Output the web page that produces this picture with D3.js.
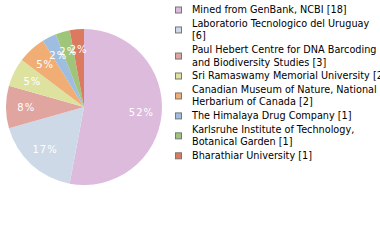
<!DOCTYPE html>
<html>
<head>
<meta charset="utf-8">
<script src="https://cdn.jsdelivr.net/npm/d3@7"></script>
<style>
  body { margin: 0; background: #fff; }
  svg { display: block; }
</style>
</head>
<body>
<div id="chart"></div>
<script>
// Data
var institutions = [
  ["Mined from GenBank, NCBI [18]"],
  ["Laboratorio Tecnologico del Uruguay", "[6]"],
  ["Paul Hebert Centre for DNA Barcoding", "and Biodiversity Studies [3]"],
  ["Sri Ramaswamy Memorial University [2]"],
  ["Canadian Museum of Nature, National", "Herbarium of Canada [2]"],
  ["The Himalaya Drug Company [1]"],
  ["Karlsruhe Institute of Technology,", "Botanical Garden [1]"],
  ["Bharathiar University [1]"]
];
var counts = [18, 6, 3, 2, 2, 1, 1, 1];
var colors = ["#dcbbdd", "#cdd9e6", "#dfa59e", "#dde39f", "#f0ad74", "#9ebde1", "#9fc57b", "#dc7a5f"];

var width = 380, height = 240;
var cx = 84, cy = 107, radius = 78;

var svg = d3.select("#chart")
  .append("svg")
  .attr("width", width)
  .attr("height", height);

var total = d3.sum(counts);
var pie = d3.pie().sort(null).value(function (d) { return d; });
var arcs = pie(counts);

var arc = d3.arc().innerRadius(0).outerRadius(radius);
var labelArc = d3.arc().innerRadius(radius * 0.74).outerRadius(radius * 0.74);

var g = svg.append("g").attr("transform", "translate(" + cx + "," + cy + ")");

g.selectAll("path")
  .data(arcs)
  .enter()
  .append("path")
  .attr("d", arc)
  .attr("fill", function (d, i) { return colors[i]; });

// percentage labels (floored, like the original)
g.selectAll("text")
  .data(arcs)
  .enter()
  .append("text")
  .attr("transform", function (d) { return "translate(" + labelArc.centroid(d) + ")"; })
  .attr("text-anchor", "middle")
  .attr("dy", "0.35em")
  .attr("fill", "#fff")
  .style("font-family", "DejaVu Sans")
  .style("font-size", "10px")
  .style("letter-spacing", "1px")
  .text(function (d) { return Math.floor(d.value / total * 100) + "%"; });

// Legend
var lineH = 12.3, pitch = 13.8;
var legend = svg.append("g").style("font-family", "DejaVu Sans").style("font-size", "9.7px");
var yTop = 10;
institutions.forEach(function (lines, i) {
  var item = legend.append("g");
  lines.forEach(function (t, j) {
    item.append("text")
      .attr("x", 192)
      .attr("y", yTop + j * lineH)
      .attr("dy", "0.35em")
      .attr("fill", "#000")
      .text(t);
  });
  var mid = yTop + (lines.length - 1) * lineH / 2;
  item.append("rect")
    .attr("x", 175.5)
    .attr("y", mid - 3)
    .attr("width", 6)
    .attr("height", 6)
    .attr("fill", colors[i])
    .attr("stroke", "#777")
    .attr("stroke-width", 1);
  yTop += (lines.length - 1) * lineH + pitch;
});
</script>
</body>
</html>
